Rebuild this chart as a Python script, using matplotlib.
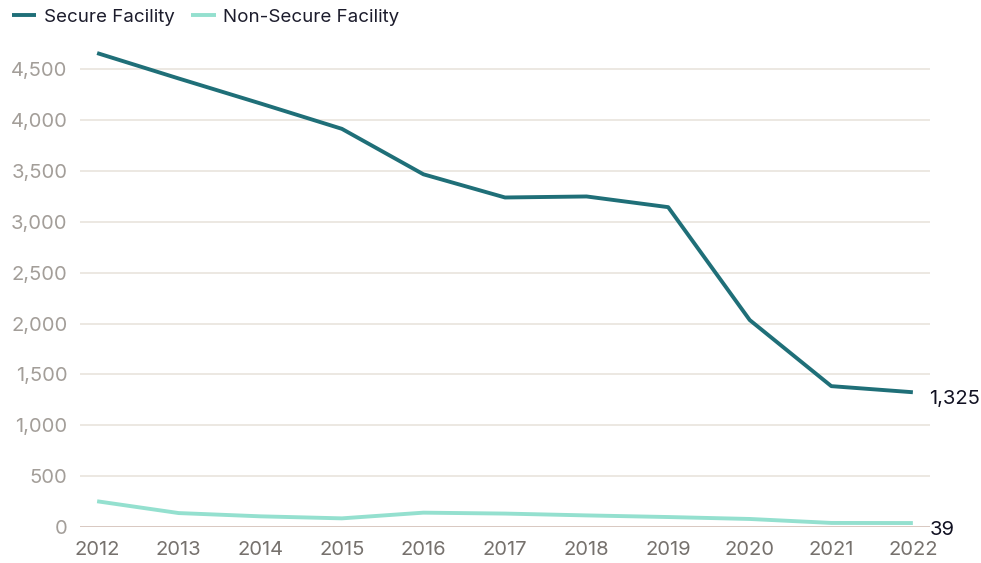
import matplotlib
matplotlib.use("Agg")
import matplotlib.pyplot as plt
from matplotlib.ticker import FuncFormatter

years = [2012, 2013, 2014, 2015, 2016, 2017, 2018, 2019, 2020, 2021, 2022]
secure = [4660, 4410, 4165, 3915, 3468, 3240, 3250, 3145, 2035, 1385, 1325]
non_secure = [253, 137, 105, 85, 141, 132, 114, 98, 79, 40, 39]
series_names = ["Secure Facility", "Non-Secure Facility"]
colors = ["#1f6f78", "#94e0cf"]

plt.rcParams['font.family'] = ['Inter', 'DejaVu Sans']

fig = plt.figure(figsize=(9.81, 5.63), dpi=100)
ax = fig.add_axes([80/981, 36/563, 850/981, 478/563])

l1, = ax.plot(years, secure, color=colors[0], lw=2.8, solid_capstyle='butt', label=series_names[0], zorder=3)
l2, = ax.plot(years, non_secure, color=colors[1], lw=2.8, solid_capstyle='butt', label=series_names[1], zorder=3)

ax.set_xlim(2011.79, 2022.21)
ax.set_ylim(0, 4700)
ax.set_yticks(range(0, 5000, 500))
ax.set_xticks(years)
ax.yaxis.set_major_formatter(FuncFormatter(lambda v, p: f"{int(v):,}"))

ax.grid(axis='y', color='#e9e4dd', lw=1.2)
ax.set_axisbelow(True)
for s in ax.spines.values():
    s.set_visible(False)
ax.axhline(0, color='#d8c6bf', lw=1.3, zorder=2)

ax.tick_params(axis='both', length=0)
ax.tick_params(axis='y', labelsize=14.5, labelcolor='#a39e99', pad=9)
ax.tick_params(axis='x', labelsize=14.5, labelcolor='#76716d', pad=10)

for vals in (secure, non_secure):
    ax.annotate(f"{vals[-1]:,}", xy=(years[-1], vals[-1]), xytext=(12, -5), textcoords='offset points',
                va='center', ha='left', fontsize=14.5, color='#111122', annotation_clip=False)

fig.legend(handles=[l1, l2], loc='upper left', bbox_to_anchor=(-0.005, 1.015), ncol=2, frameon=False,
           fontsize=13.5, handlelength=1.3, handletextpad=0.4, columnspacing=0.9, labelcolor='#1c1c2c')

fig.savefig("out.png", dpi=100)
